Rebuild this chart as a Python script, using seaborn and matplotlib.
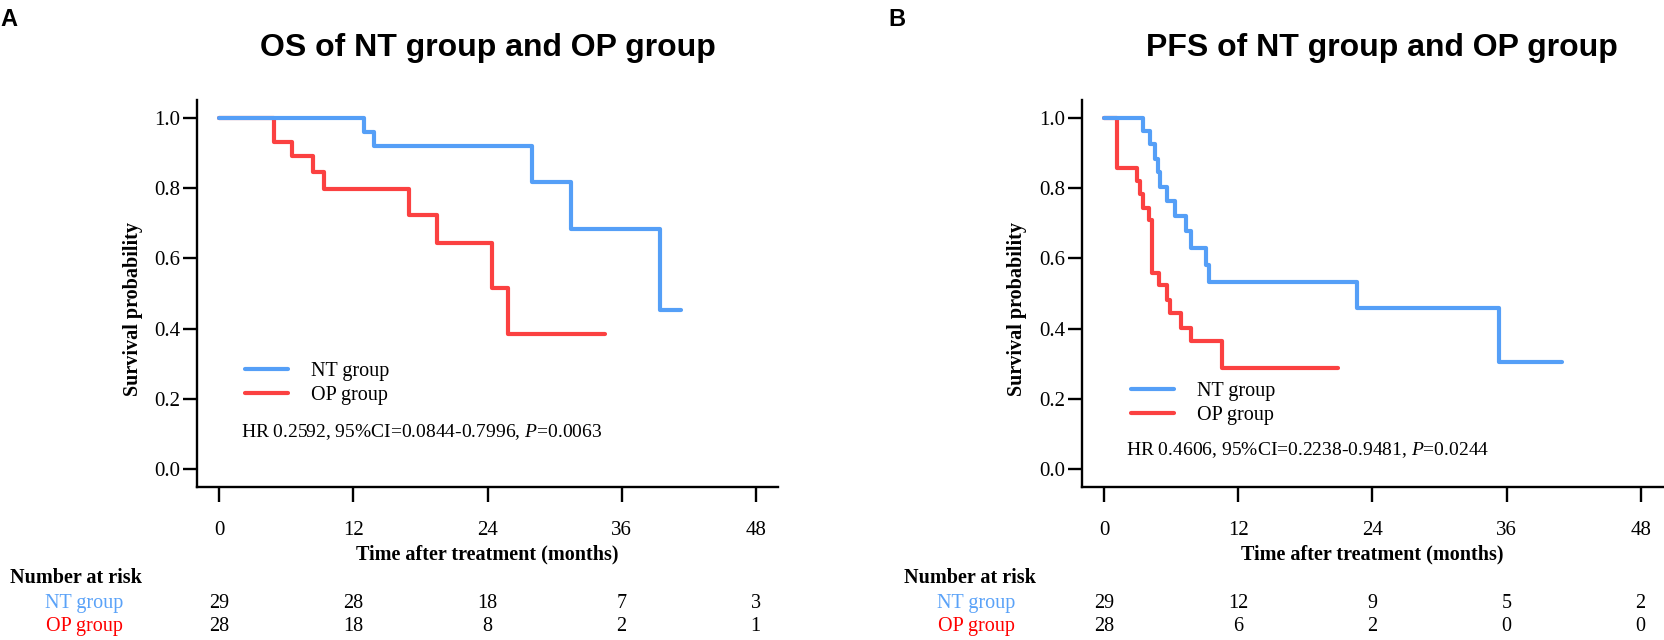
import numpy as np
import pandas as pd
import matplotlib
matplotlib.use("Agg")
import matplotlib.pyplot as plt
import matplotlib.transforms as mtransforms
import seaborn as sns

# Kaplan-Meier step values (months, survival)
os_nt_time = [0, 12.9, 13.8, 28.0, 31.5, 39.4, 41.3]
os_nt_surv = [1.0, 0.960, 0.919, 0.818, 0.682, 0.454, 0.454]
os_op_time = [0, 4.9, 6.5, 8.4, 9.4, 17.0, 19.5, 24.4, 25.8, 34.5]
os_op_surv = [1.0, 0.930, 0.891, 0.845, 0.798, 0.724, 0.644, 0.516, 0.385, 0.385]

pfs_nt_time = [0, 3.5, 4.1, 4.5, 4.8, 5.0, 5.6, 6.3, 7.3, 7.8, 9.1, 9.4, 22.6, 35.3, 41.0]
pfs_nt_surv = [1.0, 0.961, 0.926, 0.883, 0.846, 0.803, 0.764, 0.720, 0.677, 0.630,
               0.580, 0.533, 0.457, 0.305, 0.305]
pfs_op_time = [0, 1.1, 2.9, 3.2, 3.5, 4.0, 4.3, 4.9, 5.6, 5.9, 6.9, 7.8, 10.5, 20.9]
pfs_op_surv = [1.0, 0.858, 0.820, 0.784, 0.743, 0.708, 0.558, 0.523, 0.481, 0.443,
               0.402, 0.364, 0.289, 0.289]

# Number at risk tables
risk_times = [0, 12, 24, 36, 48]
os_risk_nt = [29, 28, 18, 7, 3]
os_risk_op = [28, 18, 8, 2, 1]
pfs_risk_nt = [29, 12, 9, 5, 2]
pfs_risk_op = [28, 6, 2, 0, 0]

groups = ["NT group", "OP group"]
hr_texts = [r"HR 0.2592, 95%CI=0.0844-0.7996, $\mathit{P}$=0.0063",
            r"HR 0.4606, 95%CI=0.2238-0.9481, $\mathit{P}$=0.0244"]
titles = ["OS of NT group and OP group", "PFS of NT group and OP group"]

line_colors = {"NT group": "#559ff7", "OP group": "#fb4141"}
text_colors = {"NT group": "#5aa2f8", "OP group": "#ff0000"}

sns.set_theme(style="ticks")
plt.rcParams["font.family"] = ["Liberation Serif", "DejaVu Serif"]
plt.rcParams["mathtext.fontset"] = "custom"
plt.rcParams["mathtext.rm"] = "Liberation Serif"
plt.rcParams["mathtext.it"] = "Liberation Serif:italic"
plt.rcParams["text.color"] = "black"
plt.rcParams["axes.labelcolor"] = "black"
sans = ["Liberation Sans", "DejaVu Sans"]


def make_frame(nt_t, nt_s, op_t, op_s):
    parts = []
    for g, t, s in [("NT group", nt_t, nt_s), ("OP group", op_t, op_s)]:
        parts.append(pd.DataFrame({"time": t, "surv": s, "group": g}))
    return pd.concat(parts, ignore_index=True)


os_df = make_frame(os_nt_time, os_nt_surv, os_op_time, os_op_surv)
pfs_df = make_frame(pfs_nt_time, pfs_nt_surv, pfs_op_time, pfs_op_surv)

fig = plt.figure(figsize=(16.64, 6.4), dpi=100)
ax_w, ax_h, ax_b = 0.3492, 0.6042, 0.2395
axes = [fig.add_axes([0.1184, ax_b, ax_w, ax_h]),
        fig.add_axes([0.6502, ax_b, ax_w, ax_h])]

# data frame, risk rows, legend anchor, HR y, "Number at risk" x, group label x, title x
panels = [
    (os_df, os_risk_nt, os_risk_op, (0.083, 0.322), 0.140, 0.006, 0.074, 0.5),
    (pfs_df, pfs_risk_nt, pfs_risk_op, (0.085, 0.270), 0.094, 0.543, 0.610, 0.517),
]

for i, (ax, (df, r_nt, r_op, leg_xy, hr_y, nar_x, lab_x, title_x)) in enumerate(zip(axes, panels)):
    # OP first so the NT curve sits on top
    for g in ["OP group", "NT group"]:
        sub = df[df["group"] == g]
        sns.lineplot(data=sub, x="time", y="surv", ax=ax, color=line_colors[g],
                     drawstyle="steps-post", estimator=None, linewidth=3.0,
                     label=g, legend=False)

    ax.set_xlim(-2, 50)
    ax.set_ylim(-0.05, 1.05)
    ax.set_xticks(risk_times)
    ax.set_yticks([0.0, 0.2, 0.4, 0.6, 0.8, 1.0])
    ax.set_yticklabels(["0.0", "0.2", "0.4", "0.6", "0.8", "1.0"])
    sns.despine(ax=ax)
    for sp in ["left", "bottom"]:
        ax.spines[sp].set_linewidth(1.7)
        ax.spines[sp].set_color("black")
    ax.tick_params(axis="x", direction="out", length=11, width=1.7, pad=14,
                   labelsize=15, colors="black")
    ax.tick_params(axis="y", direction="out", length=10, width=1.7, pad=2,
                   labelsize=15, colors="black")

    ax.set_xlabel("Time after treatment (months)", fontsize=14.5, fontweight="bold")
    ax.xaxis.set_label_coords(0.5, -0.175)
    ax.xaxis.label.set_va("center")
    ax.set_ylabel("Survival probability", fontsize=14.5, fontweight="bold")
    ax.yaxis.set_label_coords(-0.111, 0.46)
    ax.yaxis.label.set_va("center")

    handles, labels = ax.get_legend_handles_labels()
    order = [labels.index(g) for g in groups]
    ax.legend([handles[k] for k in order], groups, loc="upper left",
              bbox_to_anchor=leg_xy, bbox_transform=ax.transAxes, frameon=False,
              fontsize=14.5, handlelength=2.1, handletextpad=1.15,
              labelspacing=0.22, borderpad=0, borderaxespad=0)

    ax.text(0.075, hr_y, hr_texts[i], transform=ax.transAxes, fontsize=14,
            ha="left", va="center")

    ax.text(title_x, 1.1345, titles[i], transform=ax.transAxes, fontsize=23,
            fontweight="bold", family=sans, ha="center", va="center")

    # Number at risk table
    blend = mtransforms.blended_transform_factory(ax.transData, fig.transFigure)
    fig.text(nar_x, 0.0965, "Number at risk", fontsize=14.5, fontweight="bold",
             ha="left", va="center")
    fig.text(lab_x, 0.0573, "NT group", fontsize=14.5, color=text_colors["NT group"],
             ha="right", va="center")
    fig.text(lab_x, 0.0208, "OP group", fontsize=14.5, color=text_colors["OP group"],
             ha="right", va="center")
    for t, a, b in zip(risk_times, r_nt, r_op):
        ax.text(t, 0.0573, str(a), transform=blend, fontsize=14.5, ha="center",
                va="center", clip_on=False)
        ax.text(t, 0.0208, str(b), transform=blend, fontsize=14.5, ha="center",
                va="center", clip_on=False)

fig.text(0.0, 0.987, "A", fontsize=17, fontweight="bold", family=sans, ha="left", va="top")
fig.text(0.534, 0.987, "B", fontsize=17, fontweight="bold", family=sans, ha="left", va="top")

fig.savefig("out.png", dpi=100)
